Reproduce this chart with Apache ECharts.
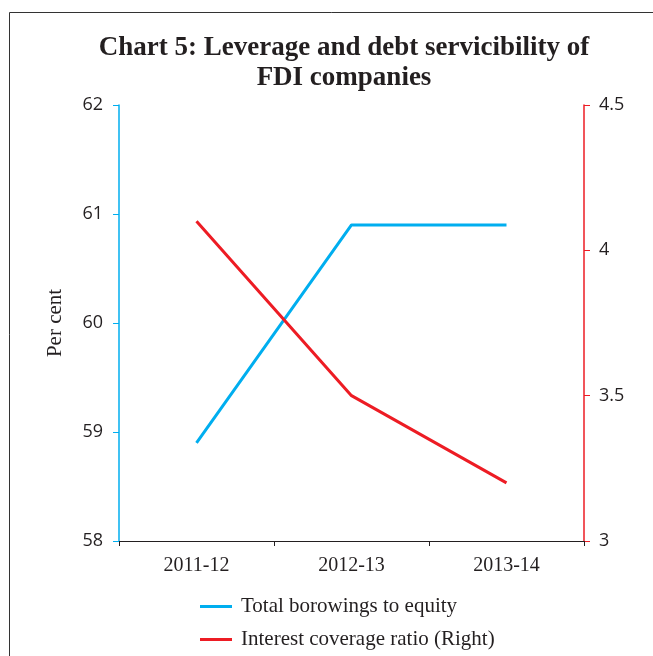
<!DOCTYPE html>
<html><head><meta charset="utf-8">
<script src="https://cdn.jsdelivr.net/npm/echarts@6/dist/echarts.min.js"></script>
<style>html,body{margin:0;padding:0;background:#fff}#c{width:653px;height:656px}</style>
</head><body><div id="c"></div>
<script>
const categories = ['2011-12', '2012-13', '2013-14'];
const borrowingsToEquity = [58.9, 60.9, 60.9];
const interestCoverage = [4.1, 3.5, 3.2];
const leftTicks = [58, 62, 1];
const rightTicks = [3, 4.5, 0.5];
const seriesNames = ['Total borowings to equity', 'Interest coverage ratio (Right)'];

const chart = echarts.init(document.getElementById('c'), null, {renderer: 'canvas'});
const serif = 'Liberation Serif';
const legendBase = {
  orient: 'horizontal', left: 200, padding: 0, itemWidth: 32, itemHeight: 3, icon: 'rect',
  textStyle: {fontFamily: serif, fontSize: 21, color: '#231f20', padding: [0, 0, 0, 4]}
};
chart.setOption({
  animation: false,
  backgroundColor: '#fff',
  title: {
    text: 'Chart 5: Leverage and debt servicibility of\nFDI companies',
    left: 339, top: 28, textAlign: 'center',
    textStyle: {fontFamily: serif, fontWeight: 'bold', fontSize: 27, lineHeight: 30, color: '#231f20'}
  },
  graphic: [{type: 'rect', shape: {x: 9.5, y: 12.5, width: 700, height: 700}, style: {fill: 'none', stroke: '#333', lineWidth: 1}}],
  grid: {left: 119, right: 69, top: 105, bottom: 115},
  legend: [
    Object.assign({}, legendBase, {top: 596, data: [seriesNames[0]]}),
    Object.assign({}, legendBase, {top: 629, data: [seriesNames[1]]})
  ],
  xAxis: {
    type: 'category', data: categories, boundaryGap: true,
    axisLine: {lineStyle: {color: '#231f20', width: 1}},
    axisTick: {show: true, length: 5, lineStyle: {color: '#231f20'}},
    axisLabel: {fontFamily: serif, fontSize: 20, color: '#231f20', margin: 15}
  },
  yAxis: [{
    type: 'value', min: leftTicks[0], max: leftTicks[1], interval: leftTicks[2],
    name: 'Per cent', nameLocation: 'middle', nameGap: 53, nameRotate: 90,
    nameTextStyle: {fontFamily: serif, fontSize: 21, color: '#231f20'},
    axisLine: {show: true, lineStyle: {color: '#00aeef', width: 1.5}},
    axisTick: {show: true, length: 6, lineStyle: {color: '#00aeef'}},
    axisLabel: {fontFamily: 'Open Sans', fontSize: 18, color: '#231f20', margin: 16},
    splitLine: {show: false}
  }, {
    type: 'value', min: rightTicks[0], max: rightTicks[1], interval: rightTicks[2], position: 'right',
    axisLine: {show: true, lineStyle: {color: '#ed1c24', width: 1.5}},
    axisTick: {show: true, length: 6, lineStyle: {color: '#ed1c24'}},
    axisLabel: {fontFamily: 'Open Sans', fontSize: 18, color: '#231f20', margin: 15},
    splitLine: {show: false}
  }],
  series: [{
    name: seriesNames[0], type: 'line', data: borrowingsToEquity, yAxisIndex: 0,
    symbol: 'none', lineStyle: {color: '#00aeef', width: 3}, itemStyle: {color: '#00aeef'}
  }, {
    name: seriesNames[1], type: 'line', data: interestCoverage, yAxisIndex: 1,
    symbol: 'none', lineStyle: {color: '#ed1c24', width: 3}, itemStyle: {color: '#ed1c24'}
  }]
});
</script></body></html>
